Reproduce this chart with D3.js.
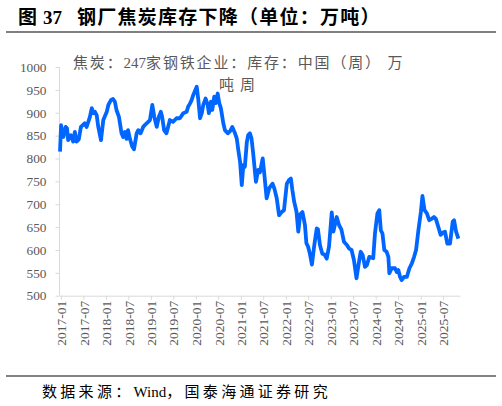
<!DOCTYPE html>
<html><head><meta charset="utf-8">
<script src="https://cdn.jsdelivr.net/npm/d3@7"></script>
<style>body{margin:0;background:#fff}svg{display:block}</style>
</head><body>
<svg id="c" width="502" height="406"></svg>
<script>
const titleParts = ["图", "37", "钢厂焦炭库存下降（单位：万吨）"];
const legendLine1 = ["焦炭：", "247", "家钢铁企业：库存：中国（周） 万"];
const legendLine2 = "吨周";
const sourceParts = ["数据来源：", "Wind", "，国泰海通证券研究"];
const yTicks = [500,550,600,650,700,750,800,850,900,950,1000];
const xTickLabels = ["2017-01","2017-07","2018-01","2018-07","2019-01","2019-07","2020-01","2020-07","2021-01","2021-07","2022-01","2022-07","2023-01","2023-07","2024-01","2024-07","2025-01","2025-07"];
const dates = ["2016-12-23","2017-01-01","2017-01-19","2017-02-08","2017-02-18","2017-02-27","2017-03-21","2017-04-09","2017-04-23","2017-05-06","2017-05-25","2017-06-11","2017-07-13","2017-07-27","2017-08-10","2017-08-23","2017-09-07","2017-09-20","2017-10-03","2017-10-17","2017-10-30","2017-11-21","2017-12-10","2018-01-07","2018-01-20","2018-02-11","2018-02-27","2018-03-14","2018-03-27","2018-04-16","2018-05-07","2018-05-20","2018-06-04","2018-06-17","2018-06-29","2018-07-14","2018-08-02","2018-08-16","2018-09-07","2018-09-20","2018-10-09","2018-10-30","2018-11-27","2018-12-24","2019-01-12","2019-01-28","2019-02-17","2019-03-06","2019-03-22","2019-04-02","2019-04-18","2019-05-07","2019-06-04","2019-06-29","2019-07-28","2019-08-24","2019-09-21","2019-10-18","2019-10-30","2019-11-14","2019-11-28","2019-12-11","2020-01-08","2020-01-21","2020-02-04","2020-02-18","2020-03-01","2020-03-20","2020-04-06","2020-04-16","2020-05-02","2020-05-13","2020-05-29","2020-06-10","2020-06-26","2020-07-09","2020-07-22","2020-08-11","2020-08-24","2020-09-16","2020-10-05","2020-10-23","2020-11-14","2020-11-28","2020-12-11","2020-12-25","2021-01-08","2021-01-21","2021-02-02","2021-02-18","2021-03-01","2021-03-15","2021-03-28","2021-04-11","2021-04-29","2021-05-03","2021-05-21","2021-06-05","2021-06-27","2021-07-10","2021-07-29","2021-08-19","2021-09-15","2021-10-01","2021-10-19","2021-11-07","2021-11-28","2021-12-17","2022-01-09","2022-01-27","2022-02-11","2022-02-23","2022-03-10","2022-03-29","2022-04-12","2022-04-28","2022-05-16","2022-06-05","2022-06-17","2022-07-01","2022-07-15","2022-08-01","2022-08-20","2022-09-09","2022-09-19","2022-10-05","2022-10-24","2022-11-11","2022-11-29","2022-12-18","2023-01-09","2023-01-22","2023-02-18","2023-03-10","2023-03-28","2023-04-18","2023-05-12","2023-05-30","2023-06-19","2023-07-08","2023-07-29","2023-08-12","2023-09-01","2023-09-17","2023-10-06","2023-10-22","2023-11-10","2023-12-12","2023-12-26","2024-01-15","2024-01-30","2024-02-12","2024-02-25","2024-03-11","2024-03-30","2024-04-13","2024-04-21","2024-05-10","2024-06-06","2024-06-20","2024-07-03","2024-07-17","2024-07-30","2024-08-18","2024-09-10","2024-10-01","2024-10-20","2024-11-08","2024-11-24","2024-12-13","2025-01-02","2025-01-15","2025-02-01","2025-02-20","2025-03-11","2025-03-30","2025-04-19","2025-05-04","2025-05-23","2025-06-12","2025-07-01","2025-07-17","2025-08-05","2025-08-27","2025-09-18","2025-09-29","2025-10-15","2025-11-03"];
const values = [815,873,847,869,866,840,851,837,858,837,842,869,877,869,880,891,910,899,902,895,869,840,884,902,917,928,930,924,906,891,855,847,858,843,862,843,826,820,855,862,855,869,877,884,917,891,869,891,902,891,862,855,884,880,888,888,899,902,913,920,928,939,957,928,888,899,917,931,917,899,924,906,935,921,942,921,910,877,862,855,860,869,855,844,818,793,742,786,782,836,851,855,844,810,760,749,775,770,800,766,713,735,745,733,713,676,683,687,745,753,756,731,705,683,640,678,683,655,615,607,592,568,610,647,645,611,592,590,581,608,682,640,672,654,645,618,611,603,600,578,538,563,596,589,563,567,585,582,636,680,687,643,636,600,596,585,549,560,560,552,556,541,534,541,541,560,570,585,600,643,683,718,687,680,665,668,672,668,651,633,638,640,614,614,662,665,640,625];

const svg = d3.select("#c");
const parse = d3.timeParse("%Y-%m-%d");
const data = dates.map((d,i)=>({date:parse(d), value:values[i]}));
const serif = "'Liberation Serif','Noto Sans CJK SC',serif";

function addParts(sel, parts, spacing){
  parts.forEach((p,i)=>{
    sel.append("tspan").attr("letter-spacing", i%2===1 ? 0 : spacing).text(p);
  });
}

// title
const t = svg.append("text").attr("y",24)
  .attr("font-family",serif).attr("font-weight","bold").attr("font-size",19).attr("fill","#000");
const titleX = [18, 43, 77];
titleParts.forEach((p,i)=>{
  t.append("tspan").attr("x",titleX[i]).attr("letter-spacing", i===2 ? 1.25 : 0).text(p);
});
svg.append("line").attr("x1",6).attr("x2",496).attr("y1",32).attr("y2",32)
  .attr("stroke","#7f7f7f").attr("stroke-width",2);

// scales
const x = d3.scaleTime().domain([new Date(2016,11,19), new Date(2025,10,16)]).range([59.5,460]);
const y = d3.scaleLinear().domain([500,1000]).range([295.7,67]);

// y axis
const yAxis = svg.append("g").attr("transform","translate(59.5,0)")
  .call(d3.axisLeft(y).tickValues(yTicks).tickFormat(d3.format("d")).tickSize(4).tickPadding(9));
yAxis.select(".domain").attr("stroke","#d9d9d9").attr("d","M0,67V295.7");
yAxis.selectAll(".tick line").attr("stroke","#d9d9d9");
yAxis.selectAll("text").attr("font-family",serif).attr("font-size",13.3).attr("fill","#595959");

// x axis
const xTicks = xTickLabels.map(s=>d3.timeParse("%Y-%m")(s));
const xAxis = svg.append("g").attr("transform","translate(0,295.7)")
  .call(d3.axisBottom(x).tickValues(xTicks).tickFormat((d,i)=>xTickLabels[i]).tickSize(4).tickSizeOuter(0));
xAxis.select(".domain").attr("stroke","#d9d9d9");
xAxis.selectAll(".tick line").attr("stroke","#d9d9d9");
xAxis.selectAll("text").attr("font-family",serif).attr("font-size",13.5).attr("fill","#595959")
  .attr("text-anchor","end").attr("dy","0.35em").attr("transform","translate(0,5) rotate(-90)")
  .attr("x",0).attr("y",0);

// line
const line = d3.line().x(d=>x(d.date)).y(d=>y(d.value)).curve(d3.curveLinear);
svg.append("path").datum(data).attr("d",line).attr("fill","none")
  .attr("stroke","#0066ff").attr("stroke-width",3.8).attr("stroke-linejoin","round");

// legend
const lg = svg.append("g").attr("font-family",serif).attr("font-size",15).attr("fill","#595959");
const l1 = lg.append("text").attr("x",73).attr("y",68);
addParts(l1, legendLine1, 1.85);
lg.append("text").attr("x",219).attr("y",90).attr("letter-spacing",6).text(legendLine2);

// footer
svg.append("line").attr("x1",6).attr("x2",496).attr("y1",376).attr("y2",376)
  .attr("stroke","#595959").attr("stroke-width",1.5);
const ft = svg.append("text").attr("x",42).attr("y",397).attr("font-family",serif).attr("font-size",15).attr("fill","#000");
addParts(ft, sourceParts, 3.3);
</script>
</body></html>
